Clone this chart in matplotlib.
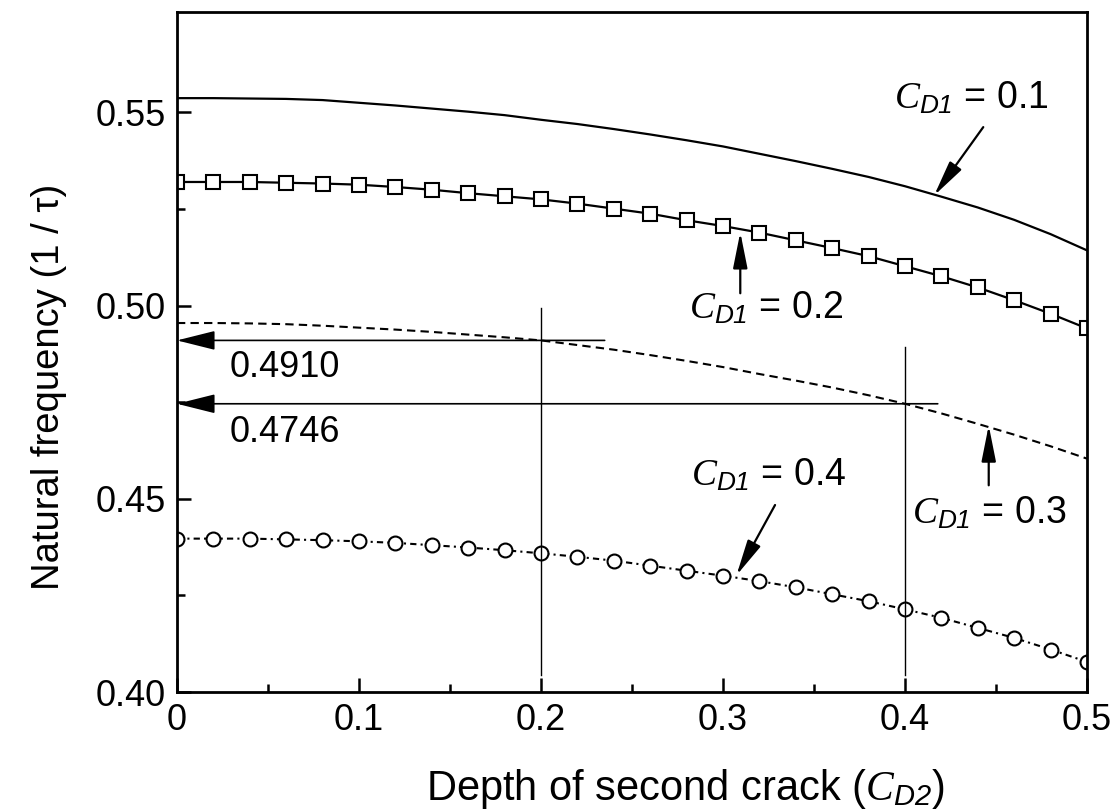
import numpy as np
import matplotlib
matplotlib.use("Agg")
from matplotlib import pyplot as plt

plt.rcParams['font.family'] = ['Liberation Sans', 'DejaVu Sans']
plt.rcParams['mathtext.fontset'] = 'custom'
plt.rcParams['mathtext.it'] = 'Liberation Serif:italic'
plt.rcParams['mathtext.sf'] = 'Liberation Sans:italic'
plt.rcParams['mathtext.rm'] = 'Liberation Sans'

# depth of second crack
cd2 = np.arange(26) * 0.02

# natural frequency for each depth of first crack
freq_01 = [0.5537, 0.5537, 0.5536, 0.5535, 0.5532, 0.5525, 0.5518, 0.5510, 0.5502, 0.5493,
           0.5481, 0.5470, 0.5457, 0.5443, 0.5428, 0.5412, 0.5393, 0.5374, 0.5354, 0.5333,
           0.5309, 0.5282, 0.5254, 0.5222, 0.5185, 0.5143]
freq_02 = [0.5320, 0.5320, 0.5320, 0.5318, 0.5316, 0.5313, 0.5307, 0.5300, 0.5291, 0.5283,
           0.5275, 0.5264, 0.5251, 0.5238, 0.5221, 0.5206, 0.5189, 0.5169, 0.5149, 0.5128,
           0.5102, 0.5076, 0.5047, 0.5014, 0.4979, 0.4941]
freq_03 = [0.4955, 0.4955, 0.4954, 0.4952, 0.4948, 0.4943, 0.4938, 0.4932, 0.4925, 0.4918,
           0.4910, 0.4898, 0.4886, 0.4872, 0.4857, 0.4841, 0.4823, 0.4806, 0.4788, 0.4768,
           0.4746, 0.4721, 0.4694, 0.4666, 0.4636, 0.4604]
freq_04 = [0.4397, 0.4397, 0.4397, 0.4395, 0.4393, 0.4390, 0.4386, 0.4380, 0.4374, 0.4367,
           0.4359, 0.4350, 0.4340, 0.4327, 0.4314, 0.4301, 0.4287, 0.4271, 0.4253, 0.4235,
           0.4214, 0.4192, 0.4166, 0.4140, 0.4110, 0.4078]

# read-off guides for C_D1 = 0.3
guide_x = [0.2, 0.4]
guide_f = [0.4910, 0.4746]
guide_labels = ["0.4910", "0.4746"]

fig = plt.figure(figsize=(11.15, 8.09), dpi=100)
ax = fig.add_axes([0.1587, 0.1446, 0.8162, 0.8406])

ax.plot(cd2, freq_01, color='k', lw=1.6)
ax.plot(cd2, freq_02, color='k', lw=1.6, marker='s', ms=10, mfc='white', mec='k', mew=1.5)
ax.plot(cd2, freq_03, color='k', lw=1.5, dashes=(4, 2.5))
ax.plot(cd2, freq_04, color='k', lw=1.5, dashes=(3, 2, 1, 2),
        marker='o', ms=10, mfc='white', mec='k', mew=1.5)

# guide lines
guide_top = [0.4995, 0.4893]
guide_end = [0.235, 0.418]
for gx, gf, gt, ge, lab, dy in zip(guide_x, guide_f, guide_top, guide_end, guide_labels, [0.4815, 0.4647]):
    ax.plot([gx, gx], [0.4045, gt], color='k', lw=1.0)
    ax.annotate("", xy=(0, gf), xytext=(ge, gf),
                arrowprops=dict(arrowstyle='-|>,head_length=1.2,head_width=0.3',
                                mutation_scale=20, lw=1.2, color='k',
                                shrinkA=0, shrinkB=0))
    ax.text(0.029, dy, lab, fontsize=26, ha='left', va='baseline')

# curve labels
labels = [r'$C_{\mathsf{D1}}$ = 0.1', r'$C_{\mathsf{D1}}$ = 0.2',
          r'$C_{\mathsf{D1}}$ = 0.3', r'$C_{\mathsf{D1}}$ = 0.4']
text_pos = [(0.394, 0.5510), (0.2814, 0.4967), (0.4036, 0.4437), (0.2826, 0.4535)]
arrow_tail = [(0.443, 0.5462), (0.3095, 0.5032), (0.446, 0.4535), (0.3286, 0.4484)]
arrow_head = [(0.416, 0.5285), (0.3095, 0.5190), (0.446, 0.4690), (0.3074, 0.4302)]
for lab, tp, at, ah in zip(labels, text_pos, arrow_tail, arrow_head):
    ax.text(tp[0], tp[1], lab, fontsize=27, ha='left', va='baseline')
    ax.annotate("", xy=ah, xytext=at,
                arrowprops=dict(arrowstyle='-|>,head_length=1.1,head_width=0.22',
                                mutation_scale=20, lw=1.6, color='k',
                                shrinkA=0, shrinkB=0))

ax.set_xlim(0, 0.5)
ax.set_ylim(0.40, 0.576)
ax.set_xticks([0, 0.1, 0.2, 0.3, 0.4, 0.5])
ax.set_xticklabels(["0", "0.1", "0.2", "0.3", "0.4", "0.5"])
ax.set_xticks(np.arange(0.05, 0.5, 0.1), minor=True)
ax.set_yticks([0.40, 0.45, 0.50, 0.55])
ax.set_yticklabels(["0.40", "0.45", "0.50", "0.55"])
ax.set_yticks([0.425, 0.475, 0.525], minor=True)
ax.tick_params(which='both', direction='in', labelsize=26, width=1.8)
ax.tick_params(which='major', length=10, pad=8)
ax.tick_params(which='minor', length=6)
for s in ax.spines.values():
    s.set_linewidth(2.0)

ax.set_xlabel(r'Depth of second crack ($C_{\mathsf{D2}}$)', fontsize=30)
ax.set_ylabel('Natural frequency (1 / τ)', fontsize=27.5)
ax.xaxis.set_label_coords(0.559, -0.110)
ax.yaxis.set_label_coords(-0.121, 0.449)

fig.savefig("out.png", dpi=100)
